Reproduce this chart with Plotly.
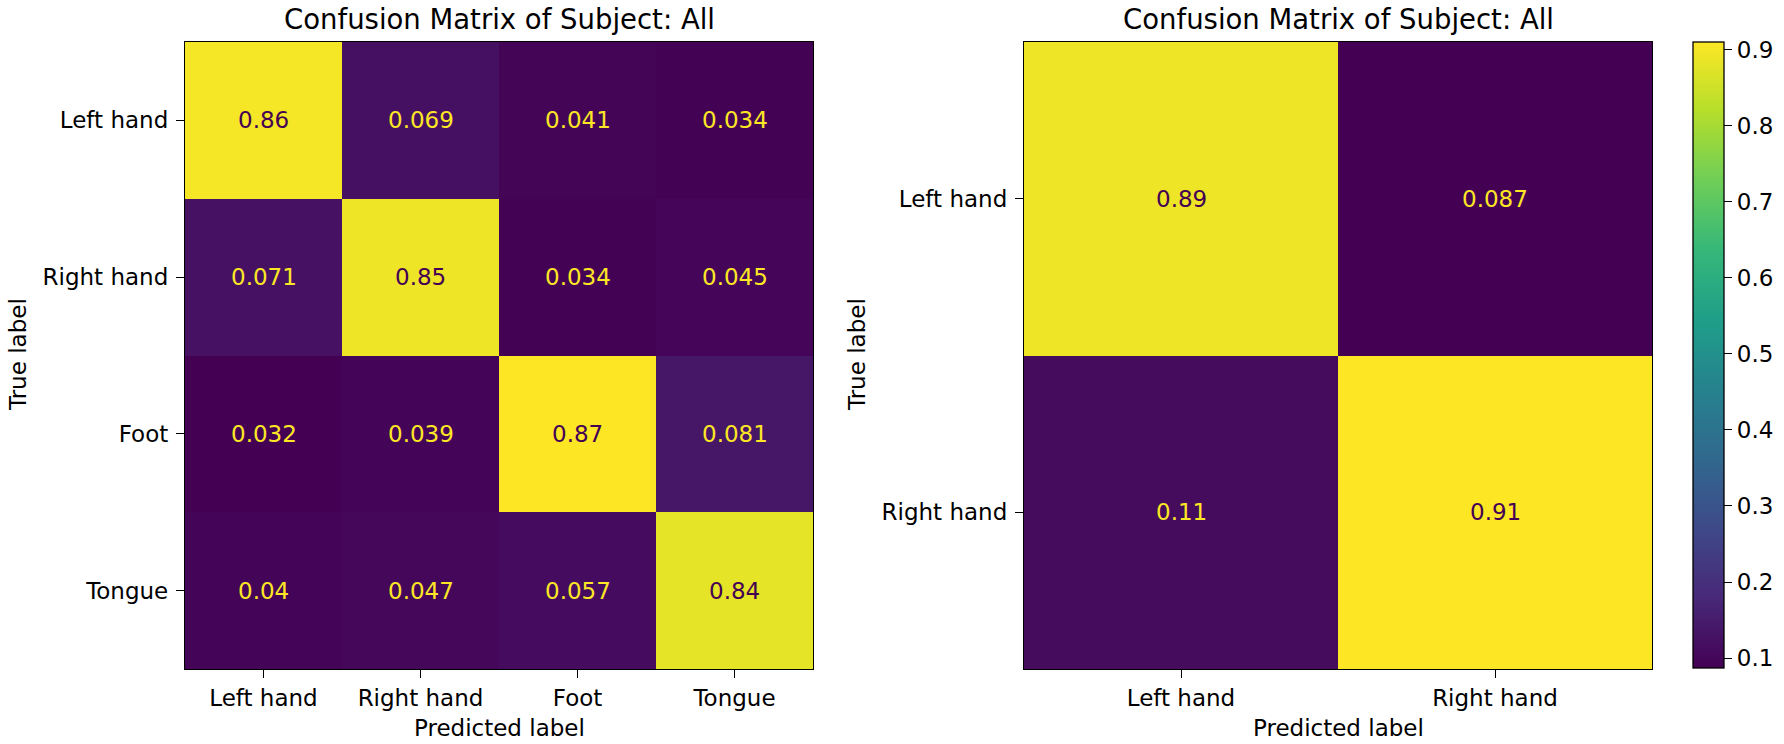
import plotly.graph_objects as go

W, H = 1784, 744

labels4 = ['Left hand', 'Right hand', 'Foot', 'Tongue']
cm4 = [
    [0.86, 0.069, 0.041, 0.034],
    [0.071, 0.85, 0.034, 0.045],
    [0.032, 0.039, 0.87, 0.081],
    [0.04, 0.047, 0.057, 0.84],
]

labels2 = ['Left hand', 'Right hand']
cm2 = [
    [0.89, 0.087],
    [0.11, 0.91],
]

cbar_ticks = [0.1, 0.2, 0.3, 0.4, 0.5, 0.6, 0.7, 0.8, 0.9]

FONT = 'DejaVu Sans'
DARK = '#440154'
LIGHT = '#fde725'


def px_x(v):
    return v / W


def px_y(v):
    return 1 - v / H


fig = go.Figure()

fig.add_trace(go.Heatmap(z=cm4, x=labels4, y=labels4, colorscale='Viridis',
                         showscale=False, xaxis='x', yaxis='y',
                         hoverinfo='skip'))
fig.add_trace(go.Heatmap(z=cm2, x=labels2, y=labels2, colorscale='Viridis',
                         xaxis='x2', yaxis='y2', hoverinfo='skip',
                         colorbar=dict(x=px_x(1693), xanchor='left',
                                       y=px_y(355), yanchor='middle',
                                       thickness=31, thicknessmode='pixels',
                                       len=626, lenmode='pixels',
                                       tickvals=cbar_ticks,
                                       ticktext=[str(t) for t in cbar_ticks],
                                       ticks='outside', ticklen=8,
                                       tickwidth=1.3, tickcolor='black',
                                       outlinecolor='black', outlinewidth=1.3,
                                       xpad=0, ypad=0,
                                       tickfont=dict(size=23, color='black'))))

annotations = []


def cell_text(cm, labels, xr, yr):
    # dark text on bright cells, bright text on dark cells
    lo = min(min(r) for r in cm)
    hi = max(max(r) for r in cm)
    thresh = (lo + hi) / 2
    for i, row in enumerate(cm):
        for j, v in enumerate(row):
            annotations.append(dict(x=labels[j], y=labels[i], xref=xr, yref=yr,
                                    text=f'{v:.2g}', showarrow=False,
                                    font=dict(size=23, family=FONT,
                                              color=DARK if v > thresh else LIGHT)))


cell_text(cm4, labels4, 'x', 'y')
cell_text(cm2, labels2, 'x2', 'y2')

for cx in (499, 1338):
    annotations.append(dict(x=px_x(cx), y=px_y(19), xref='paper', yref='paper',
                            text='Confusion Matrix of Subject: All', showarrow=False,
                            xanchor='center', yanchor='middle',
                            font=dict(size=27.5, family=FONT, color='black')))
    annotations.append(dict(x=px_x(cx), y=px_y(728), xref='paper', yref='paper',
                            text='Predicted label', showarrow=False,
                            xanchor='center', yanchor='middle',
                            font=dict(size=23, family=FONT, color='black')))

for cx in (18, 857):
    annotations.append(dict(x=px_x(cx), y=px_y(355), xref='paper', yref='paper',
                            text='True label', showarrow=False, textangle=-90,
                            xanchor='center', yanchor='middle',
                            font=dict(size=23, family=FONT, color='black')))

axis_style = dict(showline=True, mirror=True, linecolor='black', linewidth=1.3,
                  ticks='outside', ticklen=8, tickwidth=1.3, tickcolor='black',
                  showgrid=False, zeroline=False, fixedrange=True,
                  tickfont=dict(size=23, family=FONT, color='black'))

fig.update_layout(
    width=W, height=H,
    margin=dict(l=0, r=0, t=0, b=0),
    paper_bgcolor='white', plot_bgcolor='white',
    font=dict(family=FONT, color='black'),
    annotations=annotations,
    xaxis=dict(domain=[px_x(185), px_x(813)], anchor='y',
               range=[-0.5, 3.5], **axis_style),
    yaxis=dict(domain=[px_y(669), px_y(42)], anchor='x',
               range=[3.5, -0.5], ticklabelstandoff=3, **axis_style),
    xaxis2=dict(domain=[px_x(1024), px_x(1652)], anchor='y2',
                range=[-0.5, 1.5], **axis_style),
    yaxis2=dict(domain=[px_y(669), px_y(42)], anchor='x2',
                range=[1.5, -0.5], ticklabelstandoff=3, **axis_style),
)

# drop the browser's default body margin so the figure fills the window
fig.write_html('out.html', config={'displayModeBar': False},
               post_script="document.body.style.margin='0';")
